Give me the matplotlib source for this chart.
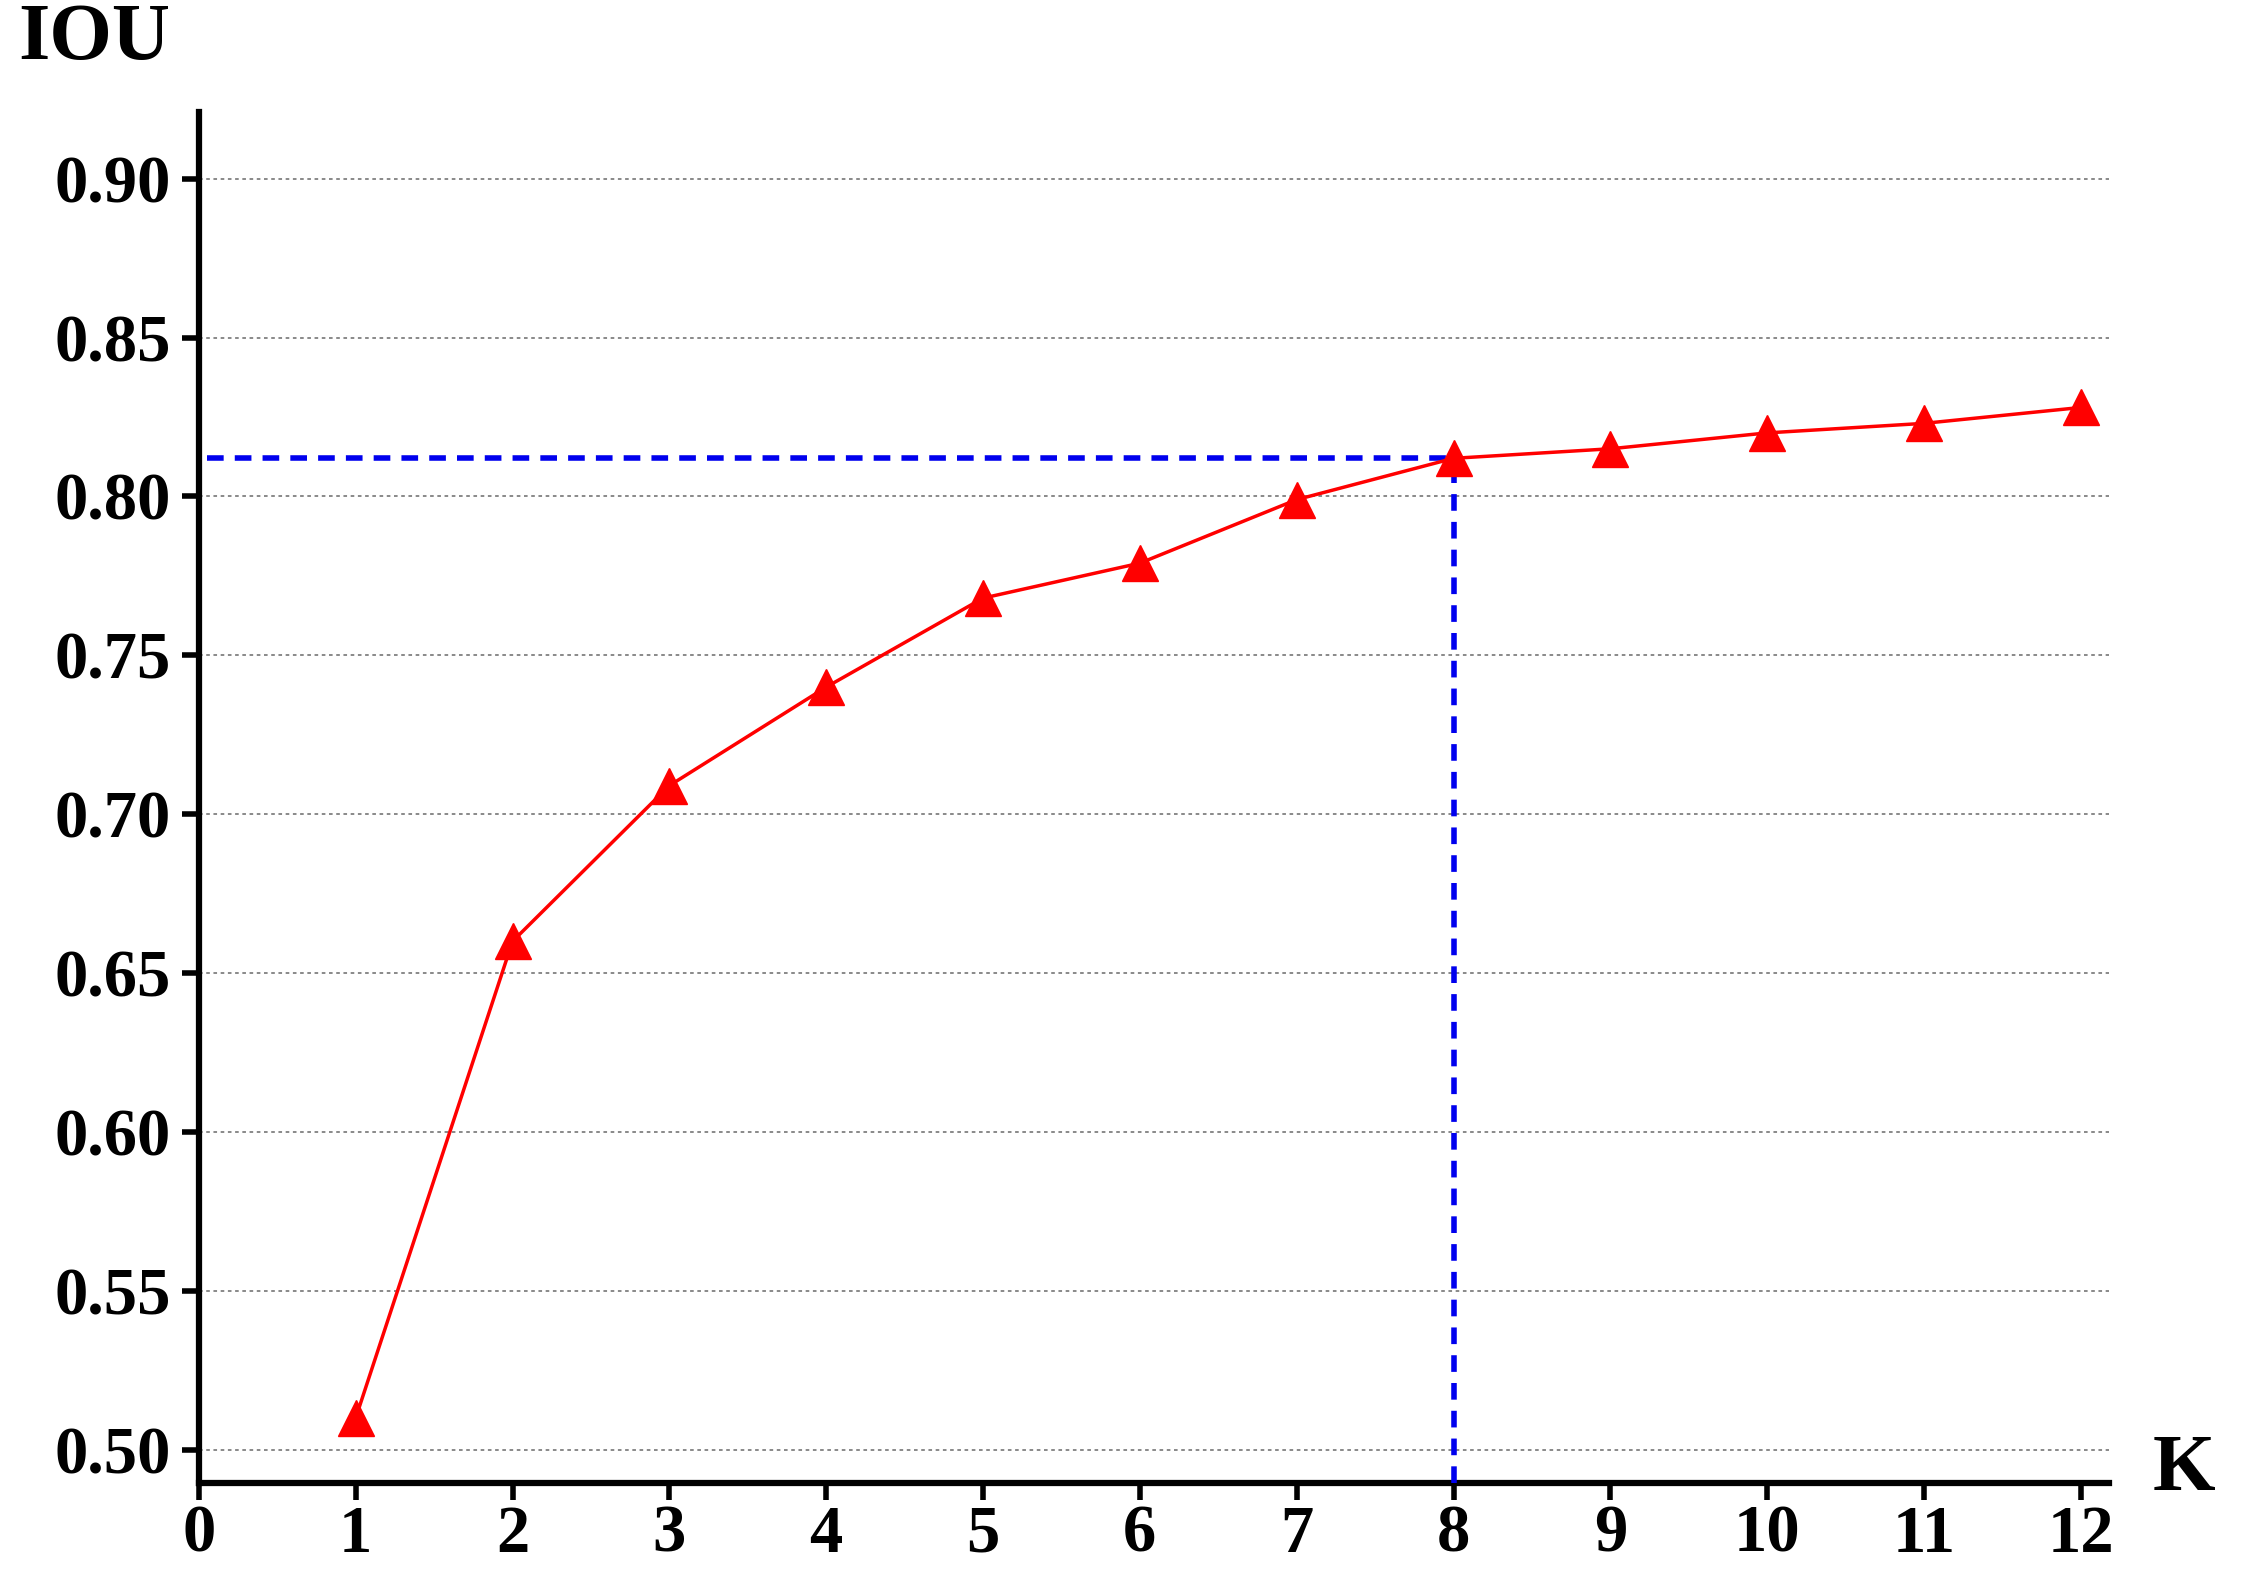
import matplotlib.pyplot as plt
import numpy as np

k = [1, 2, 3, 4, 5, 6, 7, 8, 9, 10, 11, 12]
iou = [0.510, 0.660, 0.709, 0.740, 0.768, 0.779, 0.799, 0.812, 0.815, 0.820, 0.823, 0.828]
best_k = 8
best_iou = 0.812
yticks = [0.50, 0.55, 0.60, 0.65, 0.70, 0.75, 0.80, 0.85, 0.90]

plt.rcParams['font.family'] = ['Liberation Serif', 'DejaVu Serif']
plt.rcParams['font.weight'] = 'bold'

fig = plt.figure(figsize=(22.42, 15.9), dpi=100)
ax = fig.add_axes([0.0887, 0.0676, 0.852, 0.862])

for y in yticks:
    ax.axhline(y, color='#808080', ls=(0, (2, 2)), lw=1.3, zorder=1)

ax.plot(k, iou, color='#ff0000', lw=2.5, marker='^', markersize=26, zorder=5)
ax.plot([0.05, best_k], [best_iou, best_iou], color='#0000ee', ls=(0, (3, 2)), lw=4, zorder=4)
ax.plot([best_k, best_k], [0.4897, best_iou], color='#0000ee', ls=(0, (3, 2)), lw=4, zorder=4)

ax.set_xlim(0, 12.18)
ax.set_ylim(0.4897, 0.921)
ax.set_xticks(range(0, 13))
ax.set_yticks(yticks)
ax.set_yticklabels([f'{y:.2f}' for y in yticks])
for s in ['top', 'right']:
    ax.spines[s].set_visible(False)
for s in ['left', 'bottom']:
    ax.spines[s].set_linewidth(4.5)
ax.tick_params(axis='both', labelsize=48, width=4, length=12, direction='out')
ax.tick_params(axis='y', pad=8)
ax.tick_params(axis='x', pad=4)
for lab in ax.get_xticklabels() + ax.get_yticklabels():
    lab.set_fontweight('bold')

fig.text(0.008, 0.952, 'IOU', fontsize=58, fontweight='bold', va='bottom')
fig.text(0.96, 0.052, 'K', fontsize=58, fontweight='bold', va='bottom')

fig.savefig('out.png', dpi=100)
